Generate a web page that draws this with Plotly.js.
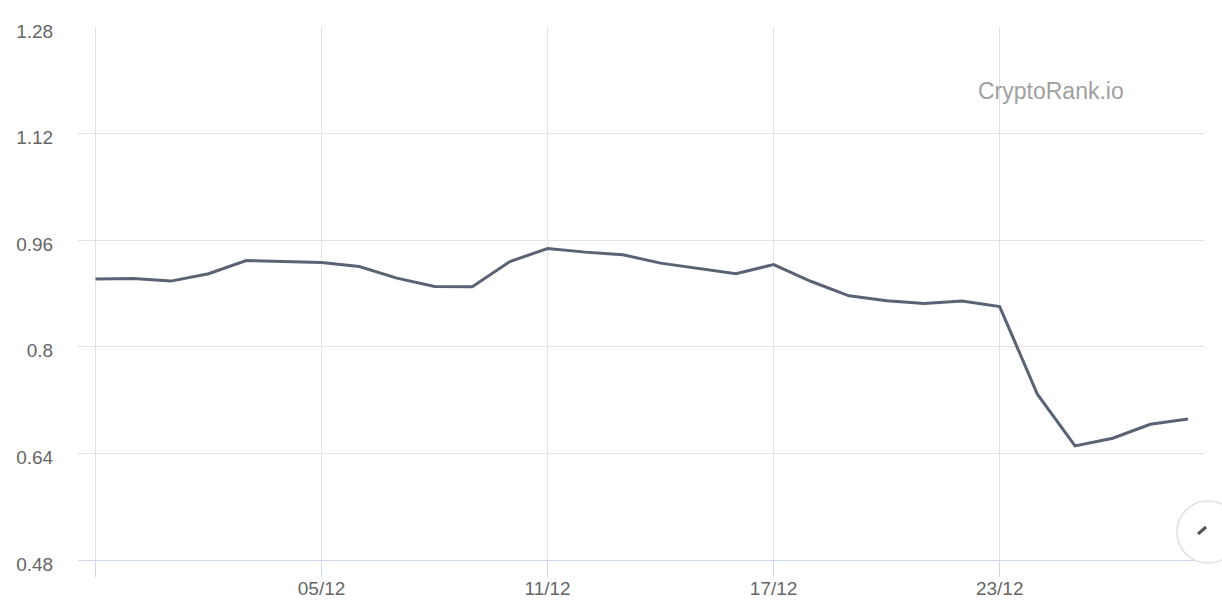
<!DOCTYPE html>
<html>
<head>
<meta charset="utf-8">
<script src="https://cdn.plot.ly/plotly-3.0.1.min.js"></script>
<style>
  html, body { margin: 0; padding: 0; background: #ffffff; }
  #chart { width: 1222px; height: 602px; }
</style>
</head>
<body>
<div id="chart"></div>
<script>
// Daily dates (29 Nov – 28 Dec)
const dates = [
  "2023-11-29","2023-11-30","2023-12-01","2023-12-02","2023-12-03","2023-12-04",
  "2023-12-05","2023-12-06","2023-12-07","2023-12-08","2023-12-09","2023-12-10",
  "2023-12-11","2023-12-12","2023-12-13","2023-12-14","2023-12-15","2023-12-16",
  "2023-12-17","2023-12-18","2023-12-19","2023-12-20","2023-12-21","2023-12-22",
  "2023-12-23","2023-12-24","2023-12-25","2023-12-26","2023-12-27","2023-12-28"
];
// Price values
const prices = [
  0.9016, 0.9025, 0.8986, 0.9096, 0.9295, 0.9280,
  0.9265, 0.9205, 0.9031, 0.8905, 0.8903, 0.9280,
  0.9476, 0.9421, 0.9381, 0.9256, 0.9175, 0.9096,
  0.9235, 0.8980, 0.8765, 0.8690, 0.8650, 0.8686,
  0.8604, 0.7289, 0.6512, 0.6628, 0.6838, 0.6918
];
// Axis ticks
const xTickVals = ["2023-11-29","2023-12-05","2023-12-11","2023-12-17","2023-12-23"];
const xTickText = ["","05/12","11/12","17/12","23/12"];
const yTickVals = [0.48, 0.64, 0.8, 0.96, 1.12, 1.28];
const yTickText = ["0.48","0.64","0.8","0.96","1.12","1.28"];
const watermark = "CryptoRank.io";

const labelFont = {family: "Liberation Sans, Arial, sans-serif", size: 19, color: "#666666"};

const trace = {
  x: dates,
  y: prices,
  type: "scatter",
  mode: "lines",
  line: {color: "#5a6374", width: 3},
  hoverinfo: "skip"
};

const layout = {
  width: 1222,
  height: 602,
  margin: {l: 78, r: 17, t: 27, b: 42},
  paper_bgcolor: "#ffffff",
  plot_bgcolor: "#ffffff",
  showlegend: false,
  xaxis: {
    type: "date",
    range: ["2023-11-28 12:50", "2023-12-28 10:48"],
    tickvals: xTickVals,
    ticktext: xTickText,
    showgrid: true,
    gridcolor: "#e3e3e3",
    gridwidth: 1,
    showline: true,
    linecolor: "#ccd6eb",
    linewidth: 1,
    ticks: "outside",
    ticklen: 16,
    tickcolor: "#ccd6eb",
    tickwidth: 1,
    tickfont: labelFont,
    ticklabelstandoff: -5,
    zeroline: false,
    fixedrange: true
  },
  yaxis: {
    range: [0.48, 1.28],
    tickvals: yTickVals,
    ticktext: yTickText,
    showgrid: true,
    gridcolor: "#e3e3e3",
    gridwidth: 1,
    showline: false,
    zeroline: false,
    ticks: "outside",
    ticklen: 20,
    tickcolor: "rgba(0,0,0,0)",
    tickfont: labelFont,
    ticklabelshift: 4,
    fixedrange: true
  },
  annotations: [{
    text: watermark,
    xref: "paper", yref: "paper",
    x: (1051 - 78) / 1127, y: (560 - 91) / 533,
    xanchor: "center", yanchor: "middle",
    showarrow: false,
    font: {family: "Liberation Sans, Arial, sans-serif", size: 23, color: "#a0a0a0"}
  }],
  shapes: [
    {
      type: "circle", xref: "paper", yref: "paper", layer: "above",
      x0: (1177 - 78) / 1127, x1: (1239 - 78) / 1127,
      y0: (560 - 563) / 533, y1: (560 - 501) / 533,
      line: {color: "#e0e0e0", width: 1.5},
      fillcolor: "#ffffff"
    },
    {
      type: "line", xref: "paper", yref: "paper", layer: "above",
      x0: (1198 - 78) / 1127, x1: (1206 - 78) / 1127,
      y0: (560 - 534) / 533, y1: (560 - 527) / 533,
      line: {color: "#555555", width: 3}
    }
  ]
};

Plotly.newPlot("chart", [trace], layout, {displayModeBar: false, staticPlot: true});
</script>
</body>
</html>
